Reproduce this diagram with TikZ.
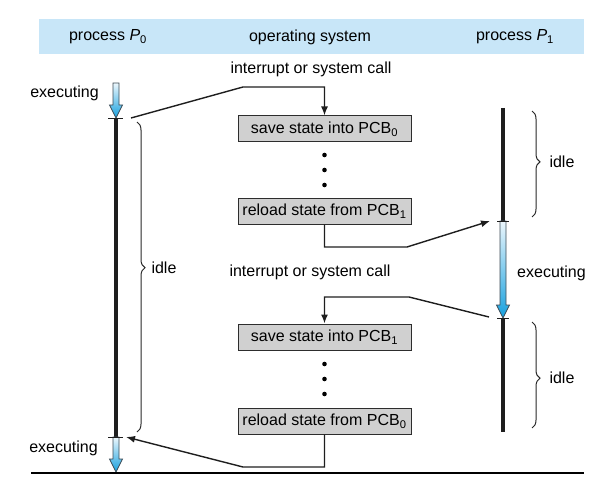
\documentclass[tikz,border=0pt]{standalone}
\usepackage{fontspec}
\setmainfont{Liberation Sans}
\usetikzlibrary{arrows.meta,decorations.pathreplacing}
\definecolor{band}{RGB}{200,230,248}
\definecolor{boxgray}{RGB}{208,208,208}
\definecolor{boxborder}{RGB}{45,45,45}
\definecolor{linedark}{RGB}{30,30,30}
\definecolor{bracegray}{RGB}{40,40,40}
\definecolor{arrowblue}{RGB}{22,160,222}
\definecolor{arrowlight}{RGB}{236,247,253}
\definecolor{arrowedge}{RGB}{60,75,85}
\newcommand{\execarrow}[3]{%
  \path[draw=arrowedge, line width=0.7pt, top color=arrowlight, bottom color=arrowblue]
    (#1-3,#2) -- (#1+3,#2) -- (#1+3,#3-13) -- (#1+6.5,#3-13) -- (#1,#3)
    -- (#1-6.5,#3-13) -- (#1-3,#3-13) -- cycle;}
\begin{document}
\begin{tikzpicture}[x=1pt,y=-1pt,font=\fontsize{16}{19}\selectfont,
  statebox/.style={draw=boxborder, fill=boxgray, minimum width=173pt, minimum height=26pt, inner sep=0pt, line width=1pt},
  conn/.style={draw=linedark, line width=1.4pt, -{Latex[length=9pt,width=7pt]}},
  lifeline/.style={draw=linedark, line width=3.5pt},
  tickline/.style={draw=linedark, line width=0.9pt},
  bracestyle/.style={decorate, decoration={brace, amplitude=8pt, aspect=#1}, draw=bracegray, line width=1pt},
  dotnode/.style={circle, fill=black, inner sep=0pt, minimum size=4.6pt},
  lbl/.style={inner sep=0pt}]
\useasboundingbox (0,0) rectangle (607,497);
% header band
\fill[band] (39,19) rectangle (584,54);
\node[lbl] (hp0) at (108,37) {process \textit{P}\textsubscript{0}};
\node[lbl] (hos) at (310,37) {operating system};
\node[lbl] (hp1) at (515,37) {process \textit{P}\textsubscript{1}};
% labels
\node[lbl] (int1) at (311,69) {interrupt or system call};
\node[lbl] (int2) at (310,272) {interrupt or system call};
\node[lbl, anchor=base east] (exe1) at (99,98) {executing};
\node[lbl, anchor=base east] (exe2) at (98,452) {executing};
\node[lbl, anchor=base west] (exe3) at (517,277) {executing};
% state boxes
\node[statebox] (box1) at (324.5,129) {save state into PCB\textsubscript{0}};
\node[statebox] (box2) at (324.5,211) {reload state from PCB\textsubscript{1}};
\node[statebox] (box3) at (324.5,337) {save state into PCB\textsubscript{1}};
\node[statebox] (box4) at (324.5,421) {reload state from PCB\textsubscript{0}};
% dots
\node[dotnode] (d1) at (324.5,155) {};
\node[dotnode] (d2) at (324.5,170) {};
\node[dotnode] (d3) at (324.5,185) {};
\node[dotnode] (d4) at (324.5,364) {};
\node[dotnode] (d5) at (324.5,379) {};
\node[dotnode] (d6) at (324.5,394) {};
% process P0 time line
\coordinate (p0top) at (116,118);
\coordinate (p0bot) at (116,437);
\execarrow{116}{83}{118}
\draw[lifeline] (p0top) -- (p0bot);
\execarrow{116}{437}{472}
\draw[tickline] (108,118) -- (123,118);
\draw[tickline] (108,437) -- (123,437);
% process P1 time line
\coordinate (p1top) at (503,108);
\coordinate (p1a) at (503,221);
\coordinate (p1b) at (503,318);
\coordinate (p1end) at (503,432);
\draw[lifeline] (p1top) -- (p1a);
\execarrow{503}{221}{318}
\draw[lifeline] (p1b) -- (p1end);
\draw[tickline] (497,221) -- (509,221);
\draw[tickline] (497,318) -- (509,318);
% braces
\draw[bracestyle=0.47] (137,122) -- (137,432) node[lbl, pos=0.47, anchor=west, xshift=14pt] (idle0) {idle};
\draw[bracestyle=0.48] (532,111) -- (532,217) node[lbl, pos=0.48, anchor=west, xshift=17pt] (idle1) {idle};
\draw[bracestyle=0.53] (532,322) -- (532,428) node[lbl, pos=0.53, anchor=west, xshift=17pt] (idle2) {idle};
% connectors
\coordinate (p0out) at (131,118);
\coordinate (c1) at (243,87);
\coordinate (c2) at (407,247);
\coordinate (p1in) at (490,221);
\coordinate (p1out) at (489,317);
\coordinate (c3) at (409,297);
\coordinate (c4) at (243,467);
\coordinate (p0in) at (126,437);
\draw[conn] (p0out) -- (c1) -| (box1.north);
\draw[conn] (box2.south) |- (c2) -- (p1in);
\draw[conn] (p1out) -- (c3) -| (box3.north);
\draw[conn] (box4.south) |- (c4) -- (p0in);
% bottom rule
\draw[draw=black, line width=1.5pt] (31,473) -- (584,473);
\end{tikzpicture}
\end{document}
